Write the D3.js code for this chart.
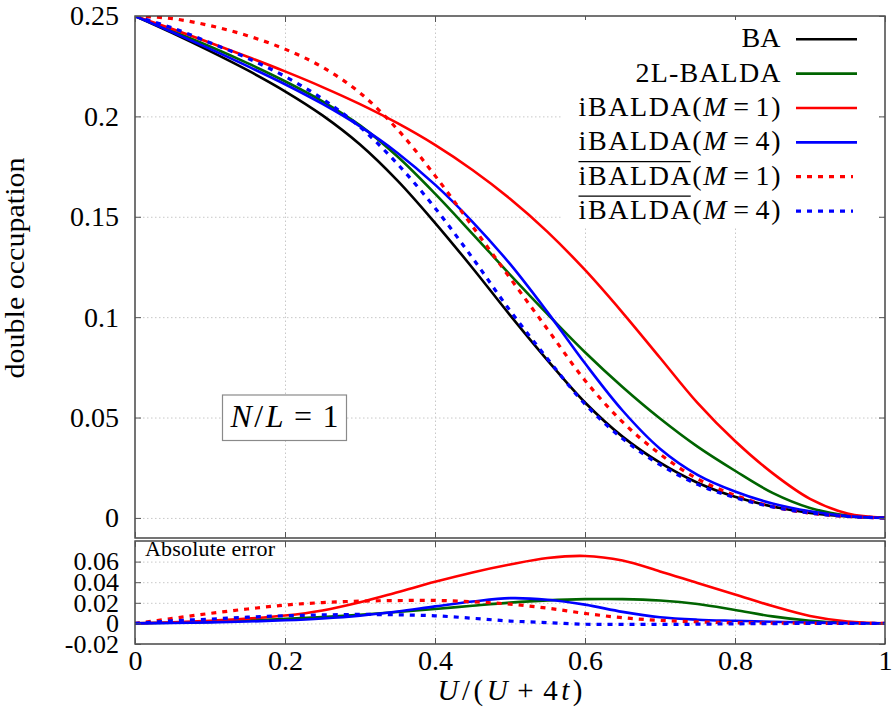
<!DOCTYPE html>
<html><head><meta charset="utf-8">
<script src="https://cdn.jsdelivr.net/npm/d3@7"></script>
<style>
html,body{margin:0;padding:0;background:#fff;}
svg{display:block;font-family:"Liberation Serif","DejaVu Serif","Noto Serif",serif;}
</style>
</head><body>
<svg id="chart" width="892" height="717"></svg>
<script>
// ---------- data ----------
const xVals = [0,0.05,0.1,0.15,0.2,0.25,0.3,0.35,0.4,0.45,0.5,0.55,0.6,0.65,0.7,0.75,0.8,0.85,0.9,0.95,1];

// top panel: double occupation
const dBA    = [0.25,0.2415,0.2325,0.223,0.2125,0.2005,0.186,0.168,0.147,0.1245,0.101,0.0785,0.0575,0.0405,0.0275,0.0175,0.0105,0.0057,0.0025,0.0007,0];
const d2L    = [0.25,0.2425,0.2348,0.2265,0.2175,0.2075,0.1955,0.18,0.1615,0.1415,0.1212,0.1015,0.0825,0.0652,0.0495,0.0355,0.0235,0.0125,0.005,0.0012,0];
const dM1    = [0.25,0.2435,0.2367,0.2297,0.2224,0.2146,0.2061,0.1966,0.1858,0.1733,0.159,0.1425,0.1235,0.1023,0.0798,0.0573,0.0383,0.0223,0.0095,0.0022,0];
const dM4    = [0.25,0.2419,0.2336,0.225,0.216,0.2062,0.195,0.1818,0.166,0.1475,0.1265,0.1025,0.077,0.0535,0.0345,0.0215,0.0132,0.0072,0.0033,0.0009,0];
const dBarM1 = [0.25,0.2487,0.2452,0.2402,0.2335,0.2245,0.2117,0.1935,0.1705,0.1452,0.1195,0.094,0.0685,0.0478,0.0318,0.0195,0.0113,0.0056,0.0024,0.0007,0];
const dBarM4 = [0.25,0.244,0.2367,0.229,0.2199,0.2087,0.1947,0.1763,0.1544,0.1295,0.1033,0.0793,0.0567,0.0395,0.0265,0.0167,0.0101,0.0055,0.0025,0.0007,0];

// bottom panel: absolute error
const e2L    = [0,0.0006,0.0015,0.0028,0.0044,0.0062,0.0084,0.011,0.014,0.0172,0.0202,0.0224,0.0236,0.0236,0.0222,0.0188,0.013,0.0068,0.0026,0.0006,0];
const eM1    = [0,0.0011,0.0026,0.0046,0.0076,0.0126,0.0205,0.0303,0.0404,0.0495,0.0572,0.0635,0.0655,0.061,0.0505,0.0392,0.0281,0.0168,0.0072,0.0018,0];
const eM4    = [0,0.0004,0.001,0.0018,0.003,0.0048,0.0075,0.0115,0.0165,0.0212,0.0245,0.023,0.0182,0.0112,0.006,0.0036,0.0025,0.0016,0.0009,0.0003,0];
const eBarM1 = [0,0.0048,0.0097,0.014,0.0178,0.0202,0.0216,0.0222,0.0223,0.021,0.0187,0.0148,0.0097,0.0055,0.0029,0.0015,0.0006,0.0003,0.0001,0,0];
const eBarM4 = [0,0.0025,0.0042,0.006,0.0074,0.0082,0.0087,0.0083,0.0074,0.005,0.0023,0.0008,-0.0008,-0.001,-0.001,-0.0008,-0.0004,-0.0002,0,0,0];

const xTicks = [0,0.2,0.4,0.6,0.8,1];
const xTickLabels = ["0","0.2","0.4","0.6","0.8","1"];
const yTopTicks = [0,0.05,0.1,0.15,0.2,0.25];
const yTopTickLabels = ["0","0.05","0.1","0.15","0.2","0.25"];
const yBotTicks = [-0.02,0,0.02,0.04,0.06];
const yBotTickLabels = ["-0.02","0","0.02","0.04","0.06"];

const legendLabels = ["BA","2L-BALDA","iBALDA(M=1)","iBALDA(M=4)","iBALDA(M=1)","iBALDA(M=4)"];
const legendBar = [false,false,false,false,true,true];

// ---------- styles ----------
const colors = ["#000000","#006400","#ff0000","#0000ff","#ff0000","#0000ff"];
const dashes = [null,null,null,null,"5,6","5,6"];
const widths = [2.6,2.6,2.6,2.6,3.2,3.2];
const legendWidths = [39,145,202,202,202,202];

const svg = d3.select("#chart");
const L = 135, R = 885;
const x = d3.scaleLinear().domain([0,1]).range([L,R]);
const yTop = d3.scaleLinear().domain([-0.01,0.25]).range([538,16]);
const yBot = d3.scaleLinear().domain([-0.02,0.08]).range([644,541]);
const FONT = '"Liberation Serif","DejaVu Serif","Noto Serif",serif';

function styleAxis(g, labels, fs){
  g.attr("font-family", FONT).attr("font-size", fs||28).attr("color","#555");
  g.select(".domain").remove();
  g.selectAll(".tick line").attr("stroke-width",1);
  g.selectAll("text").attr("fill","#000");
  if(!labels) g.selectAll("text").remove();
}
function grid(g){
  g.select(".domain").remove();
  g.selectAll("text").remove();
  g.selectAll(".tick line").attr("stroke","#c8c8c8").attr("stroke-width",1).attr("stroke-dasharray","1.5,2.5");
}

// ----- grids -----
svg.append("g").attr("transform",`translate(${L},0)`)
  .call(d3.axisLeft(yTop).tickValues([0,0.05,0.1,0.15,0.2]).tickSize(-(R-L))).call(grid);
svg.append("g").attr("transform",`translate(0,538)`)
  .call(d3.axisBottom(x).tickValues([0.2,0.4,0.6,0.8]).tickSize(-(538-16))).call(grid);
svg.append("g").attr("transform",`translate(${L},0)`)
  .call(d3.axisLeft(yBot).tickValues([0,0.02,0.04,0.06]).tickSize(-(R-L))).call(grid);
svg.append("g").attr("transform",`translate(0,644)`)
  .call(d3.axisBottom(x).tickValues([0.2,0.4,0.6,0.8]).tickSize(-(644-541))).call(grid);

// ----- curves -----
const topSeries = [dBA,d2L,dM1,dM4,dBarM1,dBarM4];
const botSeries = [null,e2L,eM1,eM4,eBarM1,eBarM4];

svg.append("clipPath").attr("id","clipTop").append("rect").attr("x",L).attr("y",16).attr("width",R-L).attr("height",522);
svg.append("clipPath").attr("id","clipBot").append("rect").attr("x",L).attr("y",541).attr("width",R-L).attr("height",103);

const curve = d3.curveCatmullRom.alpha(0.5);
const lineTop = d3.line().x((d,i)=>x(xVals[i])).y(d=>yTop(d)).curve(curve);
const lineBot = d3.line().x((d,i)=>x(xVals[i])).y(d=>yBot(d)).curve(curve);

const gTop = svg.append("g").attr("clip-path","url(#clipTop)");
topSeries.forEach((s,k)=>{
  gTop.append("path").attr("d",lineTop(s)).attr("fill","none")
    .attr("stroke",colors[k]).attr("stroke-width",widths[k])
    .attr("stroke-dasharray",dashes[k]).attr("stroke-linejoin","round");
});
const gBot = svg.append("g").attr("clip-path","url(#clipBot)");
botSeries.forEach((s,k)=>{
  if(!s) return;
  gBot.append("path").attr("d",lineBot(s)).attr("fill","none")
    .attr("stroke",colors[k]).attr("stroke-width",widths[k])
    .attr("stroke-dasharray",dashes[k]).attr("stroke-linejoin","round");
});

// ----- frames -----
svg.append("rect").attr("x",L).attr("y",16).attr("width",R-L).attr("height",538-16)
  .attr("fill","none").attr("stroke","#3a3a3a").attr("stroke-width",1.4);
svg.append("rect").attr("x",L).attr("y",541).attr("width",R-L).attr("height",644-541)
  .attr("fill","none").attr("stroke","#3a3a3a").attr("stroke-width",1.4);

// ----- axes / ticks -----
const fmtTop = d=>yTopTickLabels[yTopTicks.indexOf(d)];
const fmtBot = d=>yBotTickLabels[yBotTicks.indexOf(d)];
const fmtX = d=>xTickLabels[xTicks.indexOf(d)];

svg.append("g").attr("transform",`translate(${L},0)`)
  .call(d3.axisLeft(yTop).tickValues(yTopTicks).tickFormat(fmtTop).tickSize(-6).tickPadding(16))
  .call(g=>styleAxis(g,true));
svg.append("g").attr("transform",`translate(${R},0)`)
  .call(d3.axisRight(yTop).tickValues(yTopTicks).tickSize(-6)).call(g=>styleAxis(g,false));
svg.append("g").attr("transform",`translate(0,16)`)
  .call(d3.axisTop(x).tickValues(xTicks).tickSize(-6)).call(g=>styleAxis(g,false));
svg.append("g").attr("transform",`translate(0,538)`)
  .call(d3.axisBottom(x).tickValues(xTicks).tickSize(-6)).call(g=>styleAxis(g,false));

svg.append("g").attr("transform",`translate(${L},0)`)
  .call(d3.axisLeft(yBot).tickValues(yBotTicks).tickFormat(fmtBot).tickSize(-6).tickPadding(16))
  .call(g=>styleAxis(g,true,26));
svg.append("g").attr("transform",`translate(${R},0)`)
  .call(d3.axisRight(yBot).tickValues(yBotTicks).tickSize(-6)).call(g=>styleAxis(g,false));
svg.append("g").attr("transform",`translate(0,541)`)
  .call(d3.axisTop(x).tickValues(xTicks).tickSize(-6)).call(g=>styleAxis(g,false));
svg.append("g").attr("transform",`translate(0,644)`)
  .call(d3.axisBottom(x).tickValues(xTicks).tickFormat(fmtX).tickSize(-6).tickPadding(6))
  .call(g=>styleAxis(g,true));

// ----- axis titles -----
svg.append("text").attr("transform","translate(24,268) rotate(-90)")
  .attr("text-anchor","middle").attr("font-size",28).attr("textLength",221)
  .attr("lengthAdjust","spacingAndGlyphs").text("double occupation");

const xl = svg.append("text").attr("x",510).attr("y",700).attr("text-anchor","middle")
  .attr("font-size",29).attr("textLength",145);
xl.append("tspan").attr("font-style","italic").text("U");
xl.append("tspan").text("/(");
xl.append("tspan").attr("font-style","italic").text("U");
xl.append("tspan").attr("dx",6).text("+");
xl.append("tspan").attr("dx",6).text("4");
xl.append("tspan").attr("font-style","italic").text("t");
xl.append("tspan").text(")");

// ----- "Absolute error" -----
svg.append("text").attr("x",145).attr("y",556).attr("font-size",22).attr("textLength",130).text("Absolute error");

// ----- N/L = 1 box -----
svg.append("rect").attr("x",222.5).attr("y",395).attr("width",124).attr("height",45.5)
  .attr("fill","#fff").attr("stroke","#8a8a8a").attr("stroke-width",1.2);
const nl = svg.append("text").attr("x",284.5).attr("y",427).attr("text-anchor","middle")
  .attr("font-size",32).attr("textLength",108);
nl.append("tspan").attr("font-style","italic").text("N");
nl.append("tspan").text("/");
nl.append("tspan").attr("font-style","italic").text("L");
nl.append("tspan").attr("dx",8).text("=");
nl.append("tspan").attr("dx",8).text("1");

// ----- legend -----
svg.append("rect").attr("x",563).attr("y",20).attr("width",315).attr("height",208).attr("fill","#fff");
const rowY0 = 39.3, rowStep = 34.35;
legendLabels.forEach((lab,k)=>{
  const yy = rowY0 + k*rowStep;
  const t = svg.append("text").attr("x",780.5).attr("y",yy+8).attr("text-anchor","end")
    .attr("font-size",28).attr("textLength",legendWidths[k]);
  const m = lab.match(/^(.*\()M=(.*)$/);
  if(m){
    t.append("tspan").text(m[1]);
    t.append("tspan").attr("font-style","italic").text("M");
    t.append("tspan").attr("dx",5).text("=");
    t.append("tspan").attr("dx",5).text(m[2]);
  } else {
    t.text(lab);
  }
  if(legendBar[k]){
    const node = t.node();
    const s = node.getStartPositionOfChar(0).x;
    const e = node.getEndPositionOfChar(5).x;
    svg.append("line").attr("x1",s).attr("x2",e).attr("y1",yy-15).attr("y2",yy-15)
      .attr("stroke","#000").attr("stroke-width",1.2);
  }
  svg.append("line").attr("x1",796).attr("x2",dashes[k]?853:857).attr("y1",yy).attr("y2",yy)
    .attr("stroke",colors[k]).attr("stroke-width",widths[k]).attr("stroke-dasharray",dashes[k]);
});
</script>
</body></html>
